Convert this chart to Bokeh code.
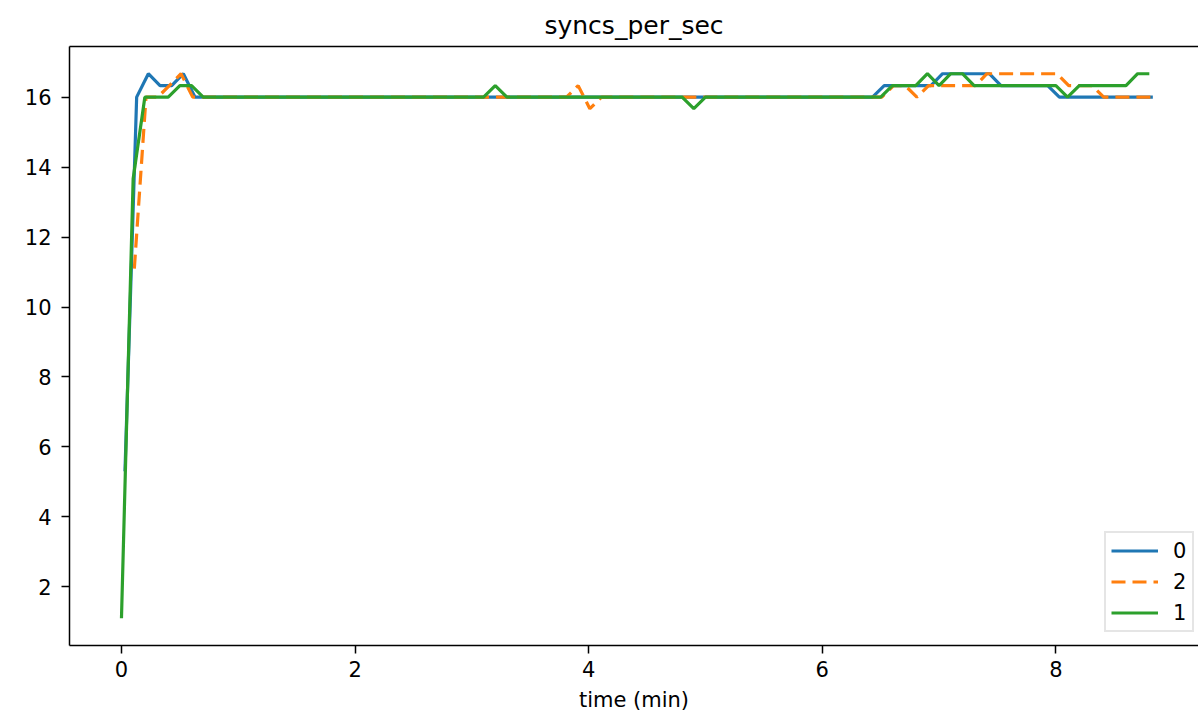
from bokeh.plotting import figure
from bokeh.models import Range1d, LinearAxis, FixedTicker, Legend, LegendItem
from bokeh.embed import file_html
from bokeh.resources import INLINE

# ---- data ----
sample_min = [0.0, 0.1, 0.2, 0.3, 0.4, 0.5, 0.6, 0.7, 0.8, 0.9,
              1.0, 1.1, 1.2, 1.3, 1.4, 1.5, 1.6, 1.7, 1.8, 1.9,
              2.0, 2.1, 2.2, 2.3, 2.4, 2.5, 2.6, 2.7, 2.8, 2.9,
              3.0, 3.1, 3.2, 3.3, 3.4, 3.5, 3.6, 3.7, 3.8, 3.9,
              4.0, 4.1, 4.2, 4.3, 4.4, 4.5, 4.6, 4.7, 4.8, 4.9,
              5.0, 5.1, 5.2, 5.3, 5.4, 5.5, 5.6, 5.7, 5.8, 5.9,
              6.0, 6.1, 6.2, 6.3, 6.4, 6.5, 6.6, 6.7, 6.8, 6.9,
              7.0, 7.1, 7.2, 7.3, 7.4, 7.5, 7.6, 7.7, 7.8, 7.9,
              8.0, 8.1, 8.2, 8.3, 8.4, 8.5, 8.6, 8.7, 8.8]

lag_0 = 0.03   # series "0" sample-time lag (min)
lag_2 = 0.01   # series "2"
lag_1 = 0.0    # series "1"

series_0 = [5.3, 16.0, 16.67, 16.33, 16.33, 16.67, 16.0, 16.0, 16.0, 16.0,
            16.0, 16.0, 16.0, 16.0, 16.0, 16.0, 16.0, 16.0, 16.0, 16.0,
            16.0, 16.0, 16.0, 16.0, 16.0, 16.0, 16.0, 16.0, 16.0, 16.0,
            16.0, 16.0, 16.0, 16.0, 16.0, 16.0, 16.0, 16.0, 16.0, 16.0,
            16.0, 16.0, 16.0, 16.0, 16.0, 16.0, 16.0, 16.0, 16.0, 16.0,
            16.0, 16.0, 16.0, 16.0, 16.0, 16.0, 16.0, 16.0, 16.0, 16.0,
            16.0, 16.0, 16.0, 16.0, 16.0, 16.33, 16.33, 16.33, 16.33, 16.33,
            16.67, 16.67, 16.67, 16.67, 16.67, 16.33, 16.33, 16.33, 16.33, 16.33,
            16.0, 16.0, 16.0, 16.0, 16.0, 16.0, 16.0, 16.0, 16.0]

# series "2" starts at the second sample
series_2 = [11.1, 16.0, 16.0, 16.33, 16.67, 16.0, 16.0, 16.0, 16.0,
            16.0, 16.0, 16.0, 16.0, 16.0, 16.0, 16.0, 16.0, 16.0, 16.0,
            16.0, 16.0, 16.0, 16.0, 16.0, 16.0, 16.0, 16.0, 16.0, 16.0,
            16.0, 16.0, 16.0, 16.0, 16.0, 16.0, 16.0, 16.0, 16.0, 16.33,
            15.67, 16.0, 16.0, 16.0, 16.0, 16.0, 16.0, 16.0, 16.0, 16.0,
            16.0, 16.0, 16.0, 16.0, 16.0, 16.0, 16.0, 16.0, 16.0, 16.0,
            16.0, 16.0, 16.0, 16.0, 16.0, 16.0, 16.33, 16.33, 16.0, 16.33,
            16.33, 16.33, 16.33, 16.33, 16.67, 16.67, 16.67, 16.67, 16.67, 16.67,
            16.67, 16.33, 16.33, 16.33, 16.0, 16.0, 16.0, 16.0, 16.0]

series_1 = [1.1, 13.67, 16.0, 16.0, 16.0, 16.33, 16.33, 16.0, 16.0, 16.0,
            16.0, 16.0, 16.0, 16.0, 16.0, 16.0, 16.0, 16.0, 16.0, 16.0,
            16.0, 16.0, 16.0, 16.0, 16.0, 16.0, 16.0, 16.0, 16.0, 16.0,
            16.0, 16.0, 16.33, 16.0, 16.0, 16.0, 16.0, 16.0, 16.0, 16.0,
            16.0, 16.0, 16.0, 16.0, 16.0, 16.0, 16.0, 16.0, 16.0, 15.67,
            16.0, 16.0, 16.0, 16.0, 16.0, 16.0, 16.0, 16.0, 16.0, 16.0,
            16.0, 16.0, 16.0, 16.0, 16.0, 16.0, 16.33, 16.33, 16.33, 16.67,
            16.33, 16.67, 16.67, 16.33, 16.33, 16.33, 16.33, 16.33, 16.33, 16.33,
            16.33, 16.0, 16.33, 16.33, 16.33, 16.33, 16.33, 16.67, 16.67]

x_ticks = [0, 2, 4, 6, 8]
y_ticks = [2, 4, 6, 8, 10, 12, 14, 16]
legend_labels = ["0", "2", "1"]
title_text = "syncs_per_sec"

t0 = [s + lag_0 for s in sample_min]
t2 = [s + lag_2 for s in sample_min[1:]]
t1 = [s + lag_1 for s in sample_min]

FONT = "DejaVu Sans"

p = figure(width=1198, height=717, output_backend="svg", toolbar_location=None,
           x_range=Range1d(-0.445, 9.221), y_range=Range1d(0.3215, 17.4485),
           min_border_left=69, min_border_right=0, min_border_top=46,
           min_border_bottom=72, title=title_text)

p.title.text_font = FONT
p.title.text_font_size = "25px"
p.title.text_font_style = "normal"
p.title.align = "center"
p.title.vertical_align = "bottom"
p.title.offset = 4
p.title.standoff = 14
p.title.text_color = "black"

p.outline_line_color = None
p.background_fill_color = "white"
p.border_fill_color = "white"
p.xgrid.visible = False
p.ygrid.visible = False

p.xaxis.ticker = FixedTicker(ticks=x_ticks)
p.yaxis.ticker = FixedTicker(ticks=y_ticks)
p.xaxis.axis_label = "time (min)"
for ax in [p.xaxis[0], p.yaxis[0]]:
    ax.axis_line_width = 1.5
    ax.axis_line_color = "black"
    ax.major_tick_line_width = 1.5
    ax.major_tick_line_color = "black"
    ax.major_tick_in = 0
    ax.major_tick_out = 8
    ax.minor_tick_line_color = None
    ax.major_label_text_font = FONT
    ax.major_label_text_font_size = "21px"
    ax.major_label_text_color = "black"
    ax.axis_label_text_font = FONT
    ax.axis_label_text_font_size = "21px"
    ax.axis_label_text_font_style = "normal"
    ax.axis_label_text_color = "black"
p.xaxis[0].major_label_standoff = 7
p.xaxis[0].axis_label_standoff = 8
p.yaxis[0].major_label_standoff = 10

top_axis = LinearAxis(ticker=FixedTicker(ticks=[]), axis_line_width=1.5,
                      axis_line_color="black", major_tick_line_color=None,
                      major_tick_out=0, major_tick_in=0,
                      minor_tick_line_color=None, minor_tick_out=0,
                      major_label_text_font_size="0px", major_label_standoff=0)
p.add_layout(top_axis, "above")

r0 = p.line(t0, series_0, line_color="#1f77b4", line_width=3.2)
r2 = p.line(t2, series_2, line_color="#ff7f0e", line_width=3.2, line_dash="14 7")
r1 = p.line(t1, series_1, line_color="#2ca02c", line_width=3.2)

legend = Legend(items=[LegendItem(label=legend_labels[0], renderers=[r0]),
                       LegendItem(label=legend_labels[1], renderers=[r2]),
                       LegendItem(label=legend_labels[2], renderers=[r1])],
                location=(1035, 13))
legend.label_text_font = FONT
legend.label_text_font_size = "21px"
legend.label_text_color = "black"
legend.glyph_width = 47
legend.glyph_height = 25
legend.label_height = 25
legend.label_width = 14
legend.label_standoff = 15
legend.spacing = 6
legend.padding = 5
legend.margin = 0
legend.border_line_color = "#cccccc"
legend.border_line_width = 2
legend.background_fill_color = "white"
legend.background_fill_alpha = 0.8
p.add_layout(legend)

open("out.html", "w").write(file_html(p, INLINE))
